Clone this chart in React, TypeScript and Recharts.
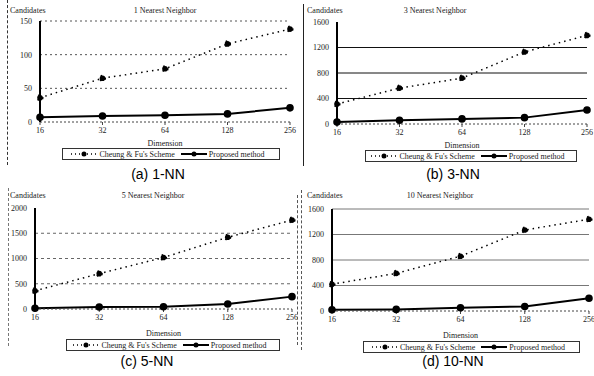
import React from "react";
import {
  CartesianGrid,
  Label,
  Legend,
  Line,
  LineChart,
  XAxis,
  YAxis,
} from "recharts";

const DIMENSIONS = ["16", "32", "64", "128", "256"];

const CHEUNG_1NN = [36, 65, 79, 116, 138];
const PROPOSED_1NN = [7, 9, 10, 12, 21];
const CHEUNG_3NN = [313, 563, 720, 1130, 1390];
const PROPOSED_3NN = [30, 60, 80, 100, 220];
const CHEUNG_5NN = [360, 700, 1020, 1420, 1760];
const PROPOSED_5NN = [15, 40, 45, 100, 245];
const CHEUNG_10NN = [420, 590, 860, 1270, 1440];
const PROPOSED_10NN = [20, 25, 50, 70, 200];

const TICKS_1NN = [0, 50, 100, 150];
const TICKS_3NN = [0, 400, 800, 1200, 1600];
const TICKS_5NN = [0, 500, 1000, 1500, 2000];
const TICKS_10NN = [0, 400, 800, 1200, 1600];

const SERIES_CHEUNG = "Cheung & Fu's Scheme";
const SERIES_PROPOSED = "Proposed method";

const SMALL_FONT = "'Liberation Serif', serif";

type Panel = {
  key: string;
  caption: string;
  title: string;
  left: number;
  top: number;
  height: number;
  margin: { top: number; right: number; left: number; bottom: number };
  xAxisHeight: number;
  labelOffset: number;
  ticks: number[];
  gridLines: number[];
  gridDash: string;
  gridStroke: string;
  cheung: number[];
  proposed: number[];
  titleX: number;
  captionX: number;
  captionY: number;
  legendLeft: number;
  legendWidth: number;
};

const PANELS: Panel[] = [
  {
    key: "a",
    caption: "(a) 1-NN",
    title: "1 Nearest Neighbor",
    left: 0,
    top: 0,
    height: 165,
    margin: { top: 21, right: 7, left: 10, bottom: 3 },
    xAxisHeight: 26,
    labelOffset: 2,
    ticks: TICKS_1NN,
    gridLines: [50, 100, 150],
    gridDash: "2 3",
    gridStroke: "#555",
    cheung: CHEUNG_1NN,
    proposed: PROPOSED_1NN,
    titleX: 165,
    captionX: 158,
    captionY: 175,
    legendLeft: 62,
    legendWidth: 218,
  },
  {
    key: "b",
    caption: "(b) 3-NN",
    title: "3 Nearest Neighbor",
    left: 297,
    top: 0,
    height: 165,
    margin: { top: 22, right: 7, left: 10, bottom: 1 },
    xAxisHeight: 26,
    labelOffset: 2,
    ticks: TICKS_3NN,
    gridLines: [400, 800, 1200],
    gridDash: "0",
    gridStroke: "#111",
    cheung: CHEUNG_3NN,
    proposed: PROPOSED_3NN,
    titleX: 138,
    captionX: 156,
    captionY: 175,
    legendLeft: 68,
    legendWidth: 212,
  },
  {
    key: "c",
    caption: "(c) 5-NN",
    title: "5 Nearest Neighbor",
    left: 0,
    top: 185,
    height: 170,
    margin: { top: 23, right: 5, left: 5, bottom: 2 },
    xAxisHeight: 30,
    labelOffset: 3,
    ticks: TICKS_5NN,
    gridLines: [500, 1000, 1500],
    gridDash: "3 3",
    gridStroke: "#666",
    cheung: CHEUNG_5NN,
    proposed: PROPOSED_5NN,
    titleX: 153,
    captionX: 147,
    captionY: 362,
    legendLeft: 66,
    legendWidth: 214,
  },
  {
    key: "d",
    caption: "(d) 10-NN",
    title: "10 Nearest Neighbor",
    left: 297,
    top: 185,
    height: 170,
    margin: { top: 24, right: 5, left: 5, bottom: 0 },
    xAxisHeight: 30,
    labelOffset: 3,
    ticks: TICKS_10NN,
    gridLines: [400, 800, 1200, 1600],
    gridDash: "0",
    gridStroke: "#777",
    cheung: CHEUNG_10NN,
    proposed: PROPOSED_10NN,
    titleX: 143,
    captionX: 156,
    captionY: 362,
    legendLeft: 66,
    legendWidth: 217,
  },
];

function LegendBox({ left, width }: { left: number; width: number }) {
  const item = (dashed: boolean, text: string) => (
    <span style={{ display: "inline-flex", alignItems: "center", marginRight: 6 }}>
      <svg width={26} height={8} style={{ marginRight: 2 }}>
        <line
          x1={0}
          y1={4}
          x2={26}
          y2={4}
          stroke="#000"
          strokeWidth={dashed ? 1.5 : 2}
          strokeDasharray={dashed ? "1 3" : undefined}
        />
        <circle cx={13} cy={4} r={2.5} fill="#000" />
      </svg>
      {text}
    </span>
  );
  return (
    <div
      style={{
        width,
        marginLeft: left,
        border: "1px solid #333",
        boxSizing: "border-box",
        height: 12,
        display: "flex",
        alignItems: "center",
        justifyContent: "center",
        fontFamily: SMALL_FONT,
        fontSize: 8,
        color: "#222",
        whiteSpace: "nowrap",
      }}
    >
      {item(true, SERIES_CHEUNG)}
      {item(false, SERIES_PROPOSED)}
    </div>
  );
}

function NNChart({ p }: { p: Panel }) {
  const data = DIMENSIONS.map((d, i) => ({
    dim: d,
    cheung: p.cheung[i],
    proposed: p.proposed[i],
  }));
  const max = p.ticks[p.ticks.length - 1];
  return (
    <div style={{ position: "absolute", left: p.left, top: p.top, width: 297, height: p.height }}>
      <div
        style={{
          position: "absolute",
          left: 10,
          top: 6,
          fontFamily: SMALL_FONT,
          fontSize: 8,
          color: "#222",
        }}
      >
        Candidates
      </div>
      <div
        style={{
          position: "absolute",
          left: p.titleX - 50,
          width: 100,
          top: 6,
          textAlign: "center",
          fontFamily: SMALL_FONT,
          fontSize: 8,
          color: "#222",
        }}
      >
        {p.title}
      </div>
      <LineChart width={297} height={p.height} data={data} margin={p.margin} style={{ overflow: "visible" }}>
        <CartesianGrid
          vertical={false}
          horizontalValues={p.gridLines}
          stroke={p.gridStroke}
          strokeDasharray={p.gridDash}
        />
        <XAxis
          dataKey="dim"
          height={p.xAxisHeight}
          tickSize={3}
          interval={0}
          tickLine={{ stroke: "#444" }}
          axisLine={{ stroke: "#444", strokeDasharray: "2 2" }}
          tick={{ fontFamily: SMALL_FONT, fontSize: 8, fill: "#222" }}
        >
          <Label
            value="Dimension"
            position="insideBottom"
            offset={p.labelOffset}
            style={{ fontFamily: SMALL_FONT, fontSize: 8, fill: "#222" }}
          />
        </XAxis>
        <YAxis
          width={30}
          domain={[0, max]}
          ticks={p.ticks}
          tickSize={0}
          tickMargin={8}
          axisLine={{ stroke: "#000", strokeWidth: 2 }}
          tick={{ fontFamily: SMALL_FONT, fontSize: 8, fill: "#222" }}
        />
        <Legend
          verticalAlign="bottom"
          height={14}
          wrapperStyle={{ left: 0, width: 297 }}
          content={() => <LegendBox left={p.legendLeft} width={p.legendWidth} />}
        />
        <Line
          dataKey="cheung"
          name={SERIES_CHEUNG}
          stroke="#000"
          strokeWidth={1.5}
          strokeDasharray="1.5 4"
          dot={{ r: 2.8, fill: "#000", stroke: "#000" }}
          isAnimationActive={false}
        />
        <Line
          dataKey="proposed"
          name={SERIES_PROPOSED}
          stroke="#000"
          strokeWidth={2}
          dot={{ r: 2.8, fill: "#000", stroke: "#000" }}
          isAnimationActive={false}
        />
      </LineChart>
    </div>
  );
}

export default function App() {
  return (
    <div
      style={{
        position: "absolute",
        left: 0,
        top: 0,
        width: 594,
        height: 376,
        background: "#fff",
        overflow: "hidden",
      }}
    >
      <div style={{ position: "absolute", left: 7, top: 0, height: 165, borderLeft: "1px dashed #333" }} />
      <div style={{ position: "absolute", left: 303, top: 4, height: 162, borderLeft: "1px solid #222" }} />
      <div style={{ position: "absolute", left: 8, top: 188, height: 158, borderLeft: "1px dashed #777" }} />
      <div style={{ position: "absolute", left: 297, top: 195, height: 150, borderLeft: "1px dashed #555" }} />
      <div style={{ position: "absolute", left: 301, top: 190, height: 160, borderLeft: "1px dashed #555" }} />
      {PANELS.map((p) => (
        <NNChart key={p.key} p={p} />
      ))}
      {PANELS.map((p) => (
        <div
          key={p.key + "-cap"}
          style={{
            position: "absolute",
            left: p.left + p.captionX - 50,
            width: 100,
            top: p.captionY - 9,
            textAlign: "center",
            fontFamily: "'Liberation Sans', Arial, sans-serif",
            fontSize: 14,
            color: "#000",
          }}
        >
          {p.caption}
        </div>
      ))}
    </div>
  );
}
